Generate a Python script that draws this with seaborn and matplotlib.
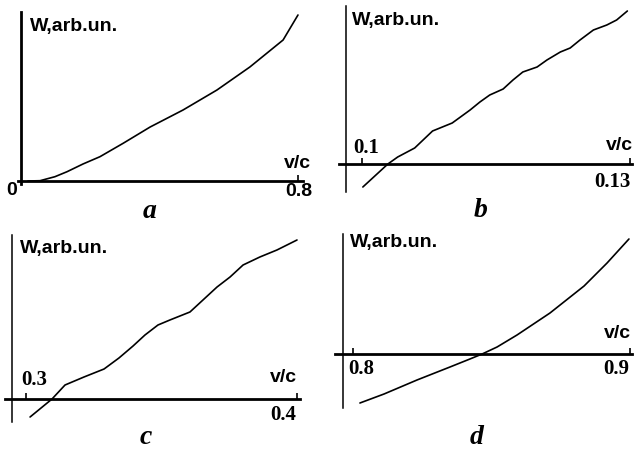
import matplotlib
matplotlib.use("Agg")
import matplotlib.pyplot as plt
import seaborn as sns

# ---- data (v/c, W in arbitrary units) ----
a_v = [0.020, 0.055, 0.098, 0.133, 0.179, 0.228, 0.295, 0.373, 0.468, 0.566, 0.661, 0.757, 0.800]
a_w = [0.0, 0.003, 0.043, 0.093, 0.17, 0.243, 0.377, 0.54, 0.71, 0.91, 1.14, 1.41, 1.66]

b_v = [0.1001, 0.1029, 0.1040, 0.1059, 0.1079, 0.1101, 0.1121, 0.1132, 0.1143, 0.1158, 0.1169,
       0.1180, 0.1196, 0.1207, 0.1222, 0.1233, 0.1244, 0.1259, 0.1274, 0.1285, 0.1297]
b_w = [-0.23, 0.0, 0.07, 0.16, 0.33, 0.41, 0.54, 0.62, 0.69, 0.75, 0.84,
       0.92, 0.97, 1.04, 1.12, 1.16, 1.24, 1.34, 1.39, 1.44, 1.53]

c_v = [0.3015, 0.3096, 0.3144, 0.3214, 0.3288, 0.3343, 0.3395, 0.3439, 0.3487, 0.3531,
       0.3605, 0.3653, 0.3705, 0.3753, 0.3801, 0.3863, 0.3926, 0.4000]
c_w = [-0.18, 0.0, 0.14, 0.22, 0.30, 0.41, 0.53, 0.64, 0.74, 0.79,
       0.87, 0.99, 1.12, 1.22, 1.34, 1.42, 1.49, 1.59]

d_v = [0.8025, 0.8112, 0.8231, 0.8350, 0.8422, 0.8466, 0.8520, 0.8592, 0.8711, 0.8834, 0.8917, 0.8996]
d_w = [-0.49, -0.40, -0.26, -0.13, -0.05, 0.0, 0.07, 0.19, 0.41, 0.68, 0.91, 1.15]

panel_letters = ["a", "b", "c", "d"]
y_label = "W,arb.un."
x_label = "v/c"

sns.set_style("white")
plt.rcParams["font.family"] = ["Liberation Sans", "DejaVu Sans"]

W, H = 634, 453
fig = plt.figure(figsize=(W / 100, H / 100), dpi=100)
fig.patch.set_facecolor("white")


def box(x0, y0, x1, y1):
    return [x0 / W, 1 - y1 / H, (x1 - x0) / W, (y1 - y0) / H]


SANS = dict(family="Liberation Sans", weight="bold", size=14)
SERIF = dict(family="Liberation Serif", weight="bold", size=15)
LETTER = dict(family="Liberation Serif", weight="bold", style="italic", size=20)

panels = [
    # v, w, axes box (px), xlim, ylim, y-axis at, y-axis width, ticks, tick labels
    dict(v=a_v, w=a_w, box=box(18, 12, 303, 184), xlim=(-0.0087, 0.8145), ylim=(-0.03, 1.69),
         yaxis=0.0, ylw=2.0, ticks=[0.8], tick_font=SANS,
         labels=[("0", 0.0, -9, -9), ("0.8", 0.8, 1, -10)], vc=(0.8, 0, 18),
         ylab=(30, 27), letter=(150, 212)),
    dict(v=b_v, w=b_w, box=box(339, 6, 632, 192), xlim=(0.09743, 0.13022), ylim=(-0.28, 1.58),
         yaxis=0.09821, ylw=1.1, ticks=[0.1, 0.13], tick_font=SERIF,
         labels=[("0.1", 0.1, 4, 16), ("0.13", 0.13, -18, -18)], vc=(0.13, -11, 18),
         ylab=(352, 20), letter=(481, 211)),
    dict(v=c_v, w=c_w, box=box(5, 235, 300, 422), xlim=(0.29225, 0.40111), ylim=(-0.23, 1.64),
         yaxis=0.29483, ylw=1.1, ticks=[0.3, 0.4], tick_font=SERIF,
         labels=[("0.3", 0.3, 8, 19), ("0.4", 0.4, -14, -16)], vc=(0.4, -14, 21),
         ylab=(20, 248), letter=(146, 438)),
    dict(v=d_v, w=d_w, box=box(335, 234, 632, 408), xlim=(0.7935, 0.9007), ylim=(-0.54, 1.20),
         yaxis=0.79639, ylw=1.1, ticks=[0.8, 0.9], tick_font=SERIF,
         labels=[("0.8", 0.8, 8, -15), ("0.9", 0.9, -14, -15)], vc=(0.9, -13, 21),
         ylab=(350, 243), letter=(477, 438)),
]

for p, letter in zip(panels, panel_letters):
    ax = fig.add_axes(p["box"])
    ax.set_facecolor("none")
    sns.lineplot(x=p["v"], y=p["w"], ax=ax, color="black", linewidth=1.2, estimator=None)
    ax.set_xlim(*p["xlim"])
    ax.set_ylim(*p["ylim"])
    for side in ("top", "right"):
        ax.spines[side].set_visible(False)
    ax.spines["left"].set_position(("data", p["yaxis"]))
    ax.spines["left"].set_linewidth(p["ylw"])
    ax.spines["bottom"].set_position(("data", 0))
    ax.spines["bottom"].set_linewidth(2.0)
    for s in ("left", "bottom"):
        ax.spines[s].set_color("black")
    ax.set_yticks([])
    ax.set_xticks(p["ticks"])
    ax.set_xticklabels([])
    ax.tick_params(axis="x", direction="in", length=4, width=1.2, color="black", bottom=True)
    ax.set_xlabel("")
    ax.set_ylabel("")
    for txt, xv, dx, dy in p["labels"]:
        ax.annotate(txt, xy=(xv, 0), xytext=(dx, dy), textcoords="offset pixels",
                    ha="center", va="center", color="black", **p["tick_font"])
    xv, dx, dy = p["vc"]
    ax.annotate(x_label, xy=(xv, 0), xytext=(dx, dy), textcoords="offset pixels",
                ha="center", va="center", color="black", **SANS)
    lx, ly = p["ylab"]
    fig.text(lx / W, 1 - ly / H, y_label, ha="left", va="center", color="black", **SANS)
    tx, ty = p["letter"]
    fig.text(tx / W, 1 - ty / H, letter, ha="center", va="center", color="black", **LETTER)

fig.savefig("out.png", dpi=100, facecolor="white")
